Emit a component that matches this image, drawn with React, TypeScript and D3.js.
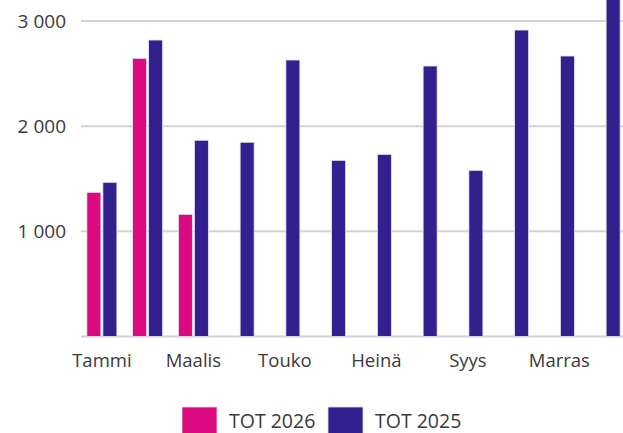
import React from "react";
import * as d3 from "d3";

const months = ["Tammi", "Helmi", "Maalis", "Huhti", "Touko", "Kesä", "Heinä", "Elo", "Syys", "Loka", "Marras", "Joulu"];
const shownMonths = ["Tammi", "Maalis", "Touko", "Heinä", "Syys", "Marras"];
const seriesNames = ["TOT 2026", "TOT 2025"];
const tot2026: (number | null)[] = [1371, 2645, 1162, null, null, null, null, null, null, null, null, null];
const tot2025: (number | null)[] = [1466, 2819, 1866, 1847, 2629, 1675, 1732, 2572, 1580, 2914, 2667, 3400];
const yTicks = [1000, 2000, 3000];
const colors = ["#dc0a80", "#32208e"];

const W = 623;
const H = 433;
const FONT = "'Open Sans', sans-serif";

export default function App() {
  const x = d3.scaleBand<string>().domain(months).range([79, 628]).paddingInner(0.344).paddingOuter(0.172);
  const xi = d3.scaleBand<string>().domain(seriesNames).range([0, x.bandwidth()]).paddingInner(0.125).paddingOuter(0);
  const y = d3.scaleLinear().domain([0, 3000]).range([336.5, 21]);
  const series = [tot2026, tot2025];
  const fmt = (v: number) => d3.format(",")(v).replace(",", " ");

  return (
    <svg width={W} height={H} style={{ position: "absolute", left: 0, top: 0, background: "#fff" }} fontFamily={FONT}>
      {yTicks.map((t) => (
        <g key={t}>
          <line x1={81} x2={W} y1={y(t)} y2={y(t)} stroke="#d3d3d3" strokeWidth={2} />
          <text x={66} y={y(t)} dy="0.35em" textAnchor="end" fontSize={19} fill="#3a3a3a">
            {fmt(t)}
          </text>
        </g>
      ))}
      <line x1={81} x2={W} y1={y(0)} y2={y(0)} stroke="#cfcfcf" strokeWidth={2} />
      {series.map((vals, si) =>
        vals.map((v, i) =>
          v == null ? null : (
            <rect
              key={si + "-" + i}
              x={(x(months[i]) as number) + (xi(seriesNames[si]) as number)}
              y={y(v)}
              width={xi.bandwidth()}
              height={y(0) - y(v)}
              fill={colors[si]}
              stroke="#e9e4f5"
              strokeWidth={0.8}
            />
          )
        )
      )}
      {shownMonths.map((m) => (
        <text key={m} x={(x(m) as number) + x.bandwidth() / 2} y={366.5} textAnchor="middle" fontSize={18.5} fill="#3a3a3a">
          {m}
        </text>
      ))}
      {seriesNames.map((s, i) => {
        const lx = [182, 328][i];
        return (
          <g key={s}>
            <rect x={lx} y={407} width={35} height={30} fill={colors[i]} stroke="#e0dcef" strokeWidth={0.8} />
            <text x={lx + 47} y={427.5} fontSize={19.5} fill="#3a3a3a">
              {s}
            </text>
          </g>
        );
      })}
    </svg>
  );
}
